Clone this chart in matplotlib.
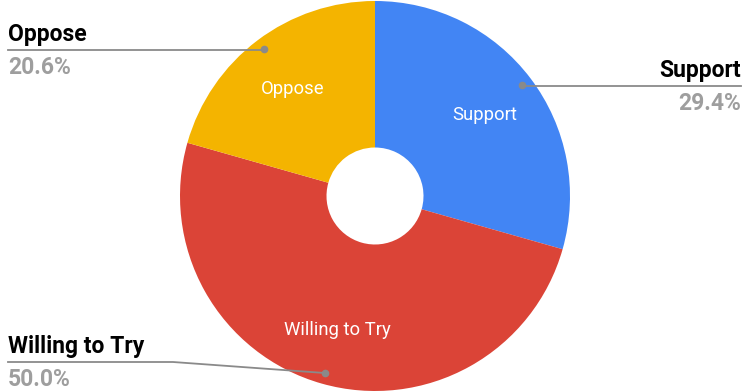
import numpy as np
import matplotlib
matplotlib.use("Agg")
import matplotlib.pyplot as plt

categories = ["Support", "Willing to Try", "Oppose"]
shares = [29.4, 50.0, 20.6]
colors = ["#4285F4", "#DB4437", "#F4B400"]

plt.rcParams["font.family"] = ["Roboto", "DejaVu Sans"]

W, H = 745, 392
fig = plt.figure(figsize=(W / 100, H / 100), dpi=100)
ax = fig.add_axes([0, 0, 1, 1])

cx, cy, R = 375, 196, 195
hole = 48.5
ax.pie(shares, colors=colors, startangle=90, counterclock=False,
       center=(cx, cy), radius=R, frame=True,
       wedgeprops=dict(width=R - hole, linewidth=0))
ax.set_xlim(0, W)
ax.set_ylim(0, H)
ax.set_aspect("equal")
ax.axis("off")

# mid angle of each wedge (degrees, counter-clockwise from +x)
total = sum(shares)
starts = 90 - 360 * np.cumsum([0] + shares[:-1]) / total
mids = starts - 360 * np.array(shares) / total / 2

line_color = "#8a8a8a"
value_color = "#9e9e9e"
# outer callout layout
layout = {
    "Support": dict(ly=H - 86, tx=741, ha="right", elbow=None),
    "Oppose": dict(ly=H - 50, tx=8, ha="left", elbow=None),
    "Willing to Try": dict(ly=H - 362, tx=8, ha="left", elbow=173),
}

for name, share, ang in zip(categories, shares, mids):
    a = np.deg2rad(ang)
    # inner label
    ri = 137
    ax.text(cx + ri * np.cos(a), cy + ri * np.sin(a) - 2, name, color="white",
            fontsize=13.3, ha="center", va="center")
    # callout dot
    rd = 184
    dx, dy = cx + rd * np.cos(a), cy + rd * np.sin(a)
    ax.plot([dx], [dy], "o", color=line_color, markersize=4.5, zorder=5)
    L = layout[name]
    ly = L["ly"]
    if L["elbow"] is None:
        ax.plot([dx, L["tx"]], [ly, ly], color=line_color, lw=1.3, zorder=4)
    else:
        ax.plot([dx, L["elbow"], L["tx"]], [dy, ly, ly],
                color=line_color, lw=1.3, zorder=4)
    ax.text(L["tx"], ly + 9, name, color="black", fontsize=16.5,
            fontweight="bold", ha=L["ha"], va="baseline")
    ax.text(L["tx"], ly - 24, f"{share:.1f}%", color=value_color, fontsize=16.5,
            fontweight="bold", ha=L["ha"], va="baseline")

fig.savefig("out.png", dpi=100)
